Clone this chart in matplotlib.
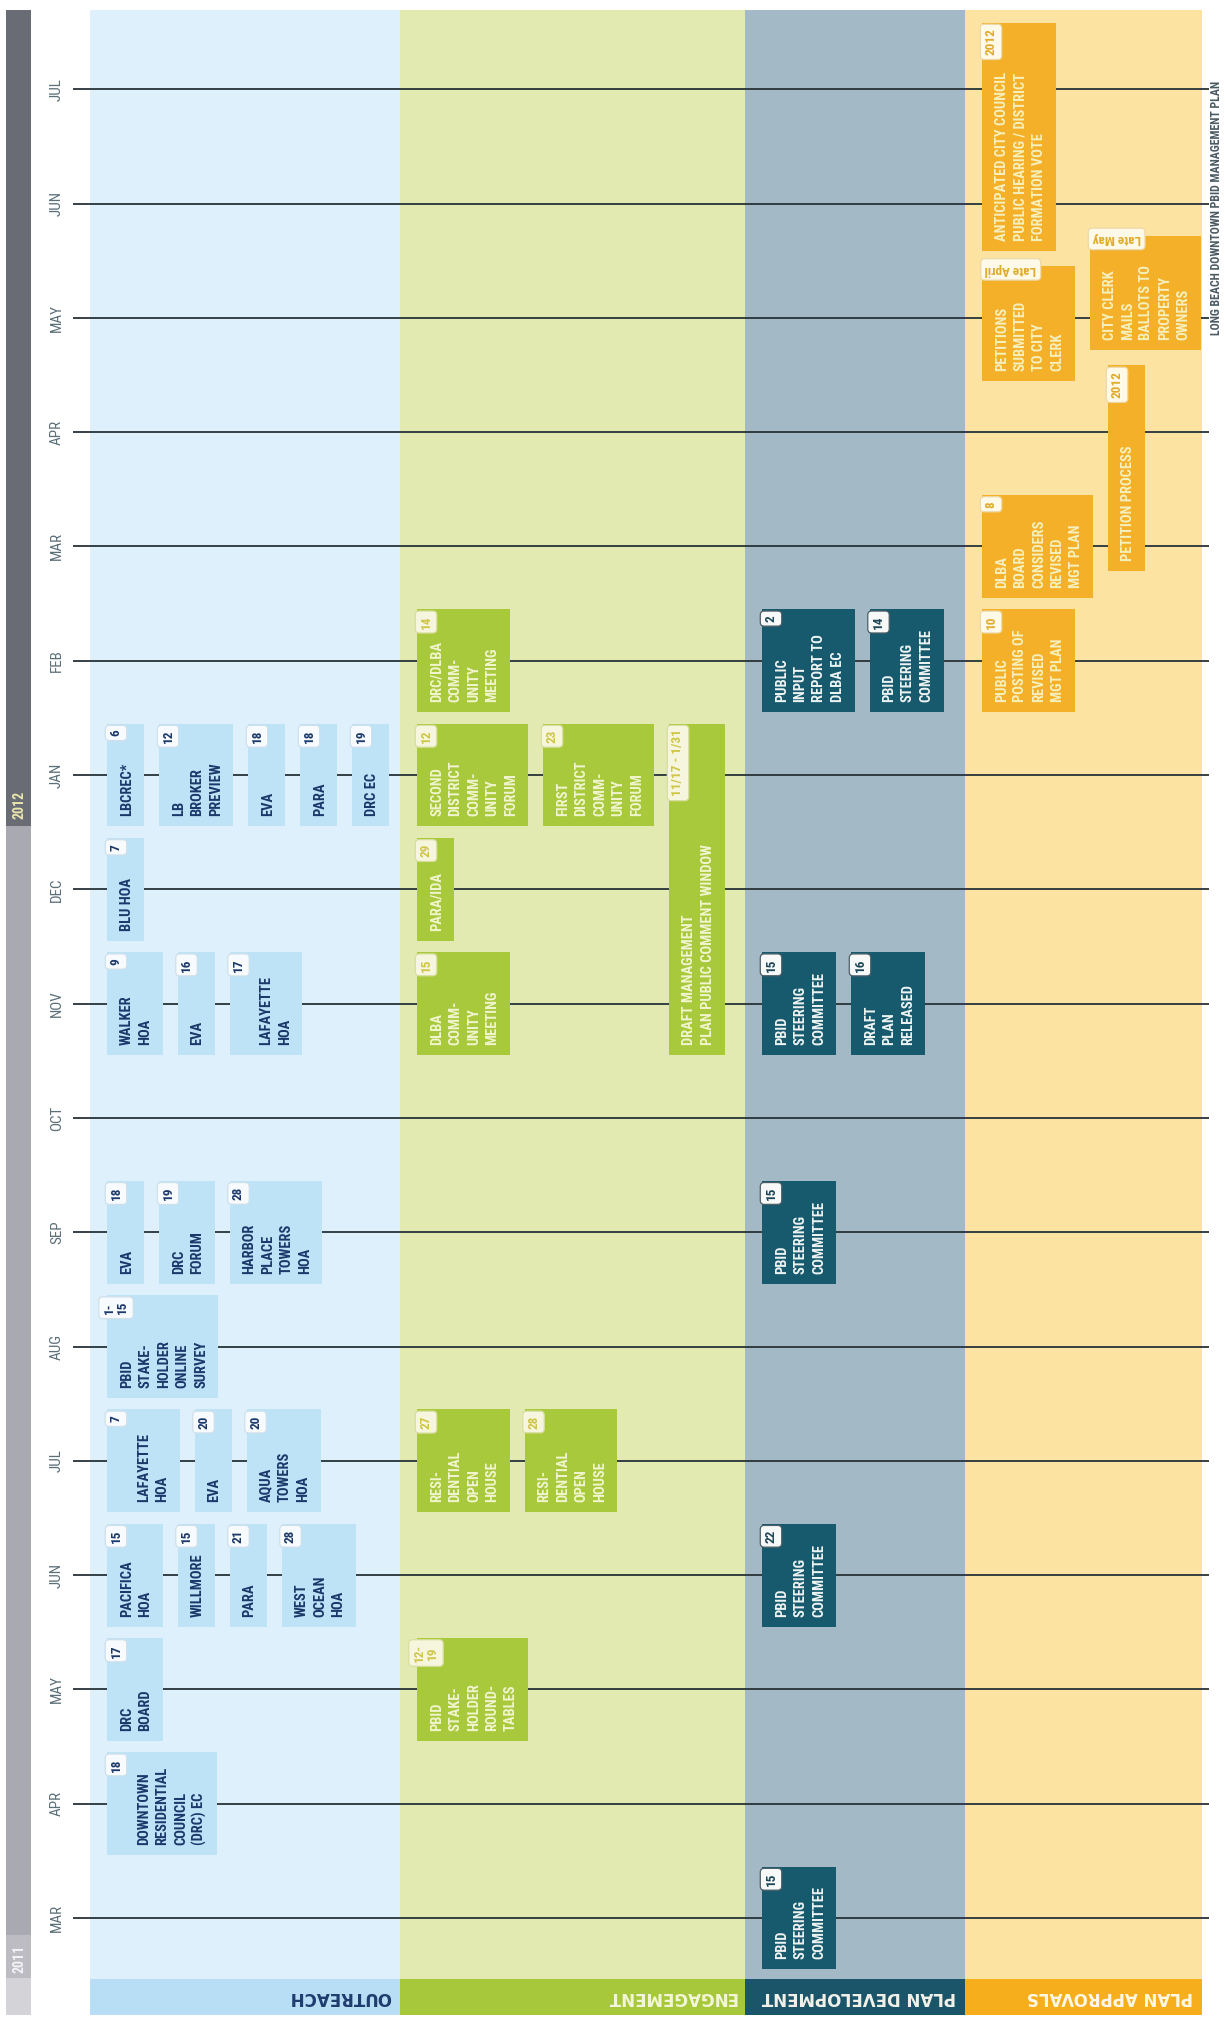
import matplotlib
matplotlib.use("Agg")
import matplotlib.pyplot as plt
from matplotlib import font_manager
from matplotlib.font_manager import FontProperties
from matplotlib.patches import Rectangle

# ---------------- data ----------------
MONTH_LABELS = ["MAR", "APR", "MAY", "JUN", "JUL", "AUG", "SEP", "OCT",
                "NOV", "DEC", "JAN", "FEB", "MAR", "APR", "MAY", "JUN", "JUL"]
START_YEAR, START_MONTH = 2011, 3
YEAR_LABELS = ["2011", "2012"]
LANE_NAMES = ["OUTREACH", "ENGAGEMENT", "PLAN DEVELOPMENT", "PLAN APPROVALS"]

OUTREACH_MONTH = ["2011-04", "2011-05", "2011-06", "2011-06", "2011-06", "2011-06",
                  "2011-07", "2011-07", "2011-07", "2011-08", "2011-09", "2011-09",
                  "2011-09", "2011-11", "2011-11", "2011-11", "2011-12", "2012-01",
                  "2012-01", "2012-01", "2012-01", "2012-01"]
OUTREACH_DAY = ["18", "17", "15", "15", "21", "28", "7", "20", "20", "1-\n15", "18", "19",
                "28", "9", "16", "17", "7", "6", "12", "18", "18", "19"]
OUTREACH_TEXT = ["DOWNTOWN\nRESIDENTIAL\nCOUNCIL\n(DRC) EC", "DRC\nBOARD", "PACIFICA\nHOA",
                 "WILLMORE", "PARA", "WEST\nOCEAN\nHOA", "LAFAYETTE\nHOA", "EVA",
                 "AQUA\nTOWERS\nHOA", "PBID\nSTAKE-\nHOLDER\nONLINE\nSURVEY", "EVA",
                 "DRC\nFORUM", "HARBOR\nPLACE\nTOWERS\nHOA", "WALKER\nHOA", "EVA",
                 "LAFAYETTE\nHOA", "BLU HOA", "LBCREC*", "LB\nBROKER\nPREVIEW", "EVA",
                 "PARA", "DRC EC"]

ENGAGEMENT_FROM = ["2011-05", "2011-07", "2011-07", "2011-11", "2011-12", "2012-01",
                   "2012-01", "2012-02", "2011-11"]
ENGAGEMENT_TO = ["2011-05", "2011-07", "2011-07", "2011-11", "2011-12", "2012-01",
                 "2012-01", "2012-02", "2012-01"]
ENGAGEMENT_DAY = ["12-\n19", "27", "28", "15", "29", "12", "23", "14", "11/17 - 1/31"]
ENGAGEMENT_TEXT = ["PBID\nSTAKE-\nHOLDER\nROUND-\nTABLES", "RESI-\nDENTIAL\nOPEN\nHOUSE",
                   "RESI-\nDENTIAL\nOPEN\nHOUSE", "DLBA\nCOMM-\nUNITY\nMEETING", "PARA/IDA",
                   "SECOND\nDISTRICT\nCOMM-\nUNITY\nFORUM",
                   "FIRST\nDISTRICT\nCOMM-\nUNITY\nFORUM",
                   "DRC/DLBA\nCOMM-\nUNITY\nMEETING",
                   "DRAFT MANAGEMENT\nPLAN PUBLIC COMMENT WINDOW"]

PLANDEV_MONTH = ["2011-03", "2011-06", "2011-09", "2011-11", "2011-11", "2012-02", "2012-02"]
PLANDEV_DAY = ["15", "22", "15", "15", "16", "2", "14"]
PLANDEV_TEXT = ["PBID\nSTEERING\nCOMMITTEE", "PBID\nSTEERING\nCOMMITTEE",
                "PBID\nSTEERING\nCOMMITTEE", "PBID\nSTEERING\nCOMMITTEE",
                "DRAFT\nPLAN\nRELEASED", "PUBLIC\nINPUT\nREPORT TO\nDLBA EC",
                "PBID\nSTEERING\nCOMMITTEE"]

APPROVAL_FROM = ["2012-02", "2012-03", "2012-03-08", "2012-04-28", "2012-05-06", "2012-06-02"]
APPROVAL_TO = ["2012-02", "2012-03", "2012-04-05", "2012-05-01", "2012-05-09", "2012-07-05"]
APPROVAL_DAY = ["10", "8", "2012", "Late April", "Late May", "2012"]
APPROVAL_TEXT = ["PUBLIC\nPOSTING OF\nREVISED\nMGT PLAN",
                 "DLBA\nBOARD\nCONSIDERS\nREVISED\nMGT PLAN",
                 "PETITION PROCESS",
                 "PETITIONS\nSUBMITTED\nTO CITY\nCLERK",
                 "CITY CLERK\nMAILS\nBALLOTS TO\nPROPERTY\nOWNERS",
                 "ANTICIPATED CITY COUNCIL\nPUBLIC HEARING / DISTRICT\nFORMATION VOTE"]

SIDE_NOTE = "LONG BEACH DOWNTOWN PBID MANAGEMENT PLAN"

# ---------------- layout / style ----------------
W, H = 1225, 2021
PXM = 114.3          # pixels per month
ROW0 = 1918          # pixel row of the first month line


def row(px):
    return (ROW0 - px) / PXM


def dy(px):
    return px / PXM


def month_pos(s):
    parts = s.split("-")
    t = (int(parts[0]) - START_YEAR) * 12 + (int(parts[1]) - START_MONTH)
    if len(parts) == 3:
        t += (int(parts[2]) - 1) / 30.0
    return t


names = {f.name for f in font_manager.fontManager.ttflist}
dejavu_cond = any(f.name == "DejaVu Sans" and "condensed" in str(f.stretch)
                  for f in font_manager.fontManager.ttflist)
if "Liberation Sans Narrow" in names:
    NARROW, STRETCH, SCALE = "Liberation Sans Narrow", "normal", 1.0
elif "Roboto Condensed" in names:
    NARROW, STRETCH, SCALE = "Roboto Condensed", "normal", 0.95
elif dejavu_cond:
    NARROW, STRETCH, SCALE = "DejaVu Sans", "condensed", 0.88
else:
    NARROW, STRETCH, SCALE = "DejaVu Sans", "normal", 0.78

fp_box = FontProperties(family=NARROW, weight="bold", size=11 * SCALE, stretch=STRETCH)
fp_badge = FontProperties(family=NARROW, weight="bold", size=10 * SCALE, stretch=STRETCH)
fp_note = FontProperties(family=NARROW, weight="bold", size=9 * SCALE, stretch=STRETCH)
fp_month = FontProperties(family=NARROW, weight="normal", size=11.5 * SCALE, stretch=STRETCH)
fp_year = FontProperties(family=NARROW, weight="bold", size=10.5 * SCALE, stretch=STRETCH)
fp_head = FontProperties(family="DejaVu Sans", weight="bold", size=12)

LANE_X = [(90, 400), (400, 745), (745, 965), (965, 1202)]
LANE_BG = ["#ddf0fb", "#e2eab1", "#a3bac6", "#fde3a2"]
LANE_HEAD = ["#b7def4", "#a7c83a", "#1b5569", "#f6ae1d"]
BOX_FC = ["#bee3f7", "#a9c93c", "#175a6e", "#f5b029"]
BOX_TC = ["#1b386a", "#f1f5cf", "#eef4f4", "#f4f0bd"]
BADGE_FC = ["#f8fbfd", "#f6f6df", "#f7f9f9", "#fff9e8"]
BADGE_TC = ["#1b386a", "#cfc546", "#1c4656", "#e0ac2c"]
BADGE_EC = ["#cfe0ea", "#d8de9e", "#4d5f66", "#ecd9a8"]
HEAD_TC = ["#1e3c6e", "#f3f6d8", "#f2f2ea", "#fff8e6"]

TOP_PX, HEAD_TOP_PX, HEAD_BOT_PX = 10, 1979, 2015
BOTTOM_PAD, PITCH, MARGIN, BADGE_CLEAR, GAP = 10, 18.5, 13, 36, 15

fig = plt.figure(figsize=(W / 100, H / 100), dpi=100)
ax = fig.add_axes([0, 0, 1, 1])
ax.set_xlim(0, W)
ax.set_ylim(row(H), row(0))
ax.axis("off")
renderer = fig.canvas.get_renderer()


def measure(s, fp):
    w, h, d = renderer.get_text_width_height_descent(s, fp, ismath=False)
    return w, h, d


_, hH, dH = measure("H", fp_box)
CAP = hH - dH

# lane backgrounds and headers
for li, (x0, x1) in enumerate(LANE_X):
    ax.add_patch(Rectangle((x0, row(HEAD_TOP_PX)), x1 - x0, row(TOP_PX) - row(HEAD_TOP_PX),
                           fc=LANE_BG[li], ec="none", zorder=0))
    ax.add_patch(Rectangle((x0, row(HEAD_BOT_PX)), x1 - x0, row(HEAD_TOP_PX) - row(HEAD_BOT_PX),
                           fc=LANE_HEAD[li], ec="none", zorder=0))
    ax.text(x1 - 9, row((HEAD_TOP_PX + HEAD_BOT_PX) / 2), LANE_NAMES[li], rotation=180,
            rotation_mode="anchor", ha="left", va="center", fontproperties=fp_head,
            color=HEAD_TC[li], zorder=1)

# year bar on the left
jan2012 = month_pos("2012-01")
split = jan2012 - 0.45
ax.add_patch(Rectangle((6, split), 25, row(TOP_PX) - split, fc="#696c74", ec="none", zorder=0))
ax.add_patch(Rectangle((6, row(1935)), 25, split - row(1935), fc="#a9a9b1", ec="none", zorder=0))
ax.add_patch(Rectangle((6, row(1978)), 25, row(1935) - row(1978), fc="#bcbcc2", ec="none", zorder=0))
ax.add_patch(Rectangle((6, row(HEAD_BOT_PX)), 25, row(1978) - row(HEAD_BOT_PX), fc="#d3d3d8",
                       ec="none", zorder=0))
ax.text(19, split + dy(7), YEAR_LABELS[1], rotation=90, rotation_mode="anchor", ha="left",
        va="center", fontproperties=fp_year, color="#ebe6ae", zorder=1)
ax.text(19, row(1973), YEAR_LABELS[0], rotation=90, rotation_mode="anchor", ha="left",
        va="center", fontproperties=fp_year, color="#f4f4f6", zorder=1)

# month lines and labels
for i, lab in enumerate(MONTH_LABELS):
    ax.plot([73, 1209], [i, i], color="#263238", lw=1.3, zorder=1, solid_capstyle="butt")
    ax.text(57, i, lab, rotation=90, rotation_mode="anchor", ha="center", va="center",
            fontproperties=fp_month, color="#5b6f78", zorder=1)

# side note along the right edge
ax.text(1223, row(335), SIDE_NOTE, rotation=90, rotation_mode="anchor", ha="left",
        va="bottom", fontproperties=fp_note, color="#4a5a62", zorder=1)


def draw_lane(li, starts, ends, days, texts):
    events = []
    for s, e, d, txt in zip(starts, ends, days, texts):
        t0 = month_pos(s) - 0.45
        t1 = month_pos(e) + 0.45
        events.append((t0, t1, d, txt))
    # one-month events are packed first, longer windows afterwards
    order = sorted(range(len(events)), key=lambda k: (events[k][1] - events[k][0], k))
    placed = []
    x_start = LANE_X[li][0] + 17
    for k in order:
        t0, t1, d, txt = events[k]
        lines = txt.split("\n")
        hp = (t1 - t0) * PXM
        first_len = measure(lines[0], fp_box)[0]
        lm = MARGIN + 17 if first_len > hp - BADGE_CLEAR else MARGIN
        w = lm + CAP + (len(lines) - 1) * PITCH + MARGIN
        x = x_start
        moved = True
        while moved:
            moved = False
            for (px0, px1, pt0, pt1) in placed:
                if t0 < pt1 and pt0 < t1 and x < px1 + GAP and px0 < x + w + GAP:
                    x = px1 + GAP
                    moved = True
        placed.append((x, x + w, t0, t1))
        ax.add_patch(Rectangle((x, t0), w, t1 - t0, fc=BOX_FC[li], ec="none", zorder=2))
        for i, line in enumerate(lines):
            bx = x + lm + CAP + i * PITCH
            ax.text(bx, t0 + dy(BOTTOM_PAD), line, rotation=90, rotation_mode="anchor",
                    ha="left", va="baseline", fontproperties=fp_box, color=BOX_TC[li],
                    zorder=3)
        bbox = dict(boxstyle="round,pad=0.32,rounding_size=0.3", fc=BADGE_FC[li],
                    ec=BADGE_EC[li], lw=0.9)
        if any(c.isalpha() for c in d):
            ax.text(x + 3, t1 - dy(3), d, rotation=180, rotation_mode="anchor", ha="right",
                    va="center", fontproperties=fp_badge, color=BADGE_TC[li], bbox=bbox,
                    zorder=4)
        else:
            ax.text(x + 9, t1 - dy(6), d, rotation=90, rotation_mode="anchor", ha="right",
                    va="center", multialignment="center", fontproperties=fp_badge,
                    color=BADGE_TC[li], bbox=bbox, zorder=4, linespacing=1.0)


draw_lane(0, OUTREACH_MONTH, OUTREACH_MONTH, OUTREACH_DAY, OUTREACH_TEXT)
draw_lane(1, ENGAGEMENT_FROM, ENGAGEMENT_TO, ENGAGEMENT_DAY, ENGAGEMENT_TEXT)
draw_lane(2, PLANDEV_MONTH, PLANDEV_MONTH, PLANDEV_DAY, PLANDEV_TEXT)
draw_lane(3, APPROVAL_FROM, APPROVAL_TO, APPROVAL_DAY, APPROVAL_TEXT)

fig.savefig("out.png", dpi=100, facecolor="white")
